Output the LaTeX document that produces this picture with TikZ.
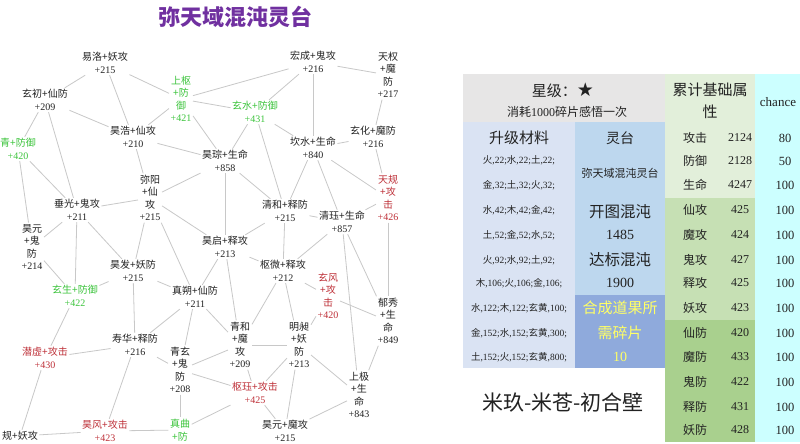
\documentclass[tikz,border=0pt]{standalone}
\usepackage{fontspec}
\setmainfont{Noto Sans CJK SC}
\newfontfamily\sr{Liberation Serif}
\newfontfamily\djv{DejaVu Sans}
\definecolor{txt}{HTML}{222222}
\definecolor{grn}{HTML}{3CC43C}
\definecolor{red2}{HTML}{BE3038}
\definecolor{purp}{HTML}{7030A0}
\definecolor{edgec}{HTML}{C8C8C8}
\definecolor{hdr}{HTML}{E7E6E6}
\definecolor{colA}{HTML}{DAE3F3}
\definecolor{colB}{HTML}{BDD7EE}
\definecolor{boxB}{HTML}{8FAADC}
\definecolor{colCa}{HTML}{E2EFDA}
\definecolor{colCb}{HTML}{C6E0B4}
\definecolor{colCc}{HTML}{A9D08E}
\definecolor{colD}{HTML}{CCFFFF}
\definecolor{yel}{HTML}{FFFF66}
\newcommand\twol[2]{#1\\{\sr +#2}}
\newcommand\fourl[4]{#1\\+#2\\#3\\{\sr +#4}}
\newcommand\rowA[6]{#1{\sr ,#2;}#3{\sr ,#4;}#5{\sr ,#6;}}
\tikzset{
  gn/.style={font=\fontsize{10}{12.5}\selectfont, align=center, inner sep=1.5pt, text=txt},
  gg/.style={gn, text=grn},
  gr/.style={gn, text=red2},
  ed/.style={draw=edgec, line width=0.8pt},
  ts/.style={inner sep=0pt, text=txt},
}
\begin{document}
\begin{tikzpicture}[x=1pt,y=-1pt]
\useasboundingbox[fill=white] (0,0) rectangle (800,444);

% title
\node[font=\bfseries\fontsize{22}{24}\selectfont, text=purp] (title) at (235,17) {弥天域混沌灵台};

% graph nodes
\node[gn] (a1) at (105,63) {\twol{易洛+妖攻}{215}};
\node[gn] (a2) at (45,100) {\twol{玄初+仙防}{209}};
\node[gg] (a3) at (181,99) {\fourl{上枢}{防}{御}{421}};
\node[gn] (a4) at (133,137) {\twol{昊浩+仙攻}{210}};
\node[gg] (a5) at (255,112) {\twol{玄水+防御}{431}};
\node[gn] (a6) at (313,62) {\twol{宏成+鬼攻}{216}};
\node[gn] (a7) at (388,75) {\fourl{天权}{魔}{防}{217}};
\node[gn] (a8) at (373,137) {\twol{玄化+魔防}{216}};
\node[gn] (a9) at (313,148) {\twol{坎水+生命}{840}};
\node[gn] (a10) at (225,161) {\twol{昊琮+生命}{858}};
\node[gg] (a11) at (18,149) {\twol{青+防御}{420}};
\node[gn] (a12) at (150,198) {\fourl{弥阳}{仙}{攻}{215}};
\node[gn] (a13) at (77,210) {\twol{垂光+鬼攻}{211}};
\node[gn] (a14) at (32,247) {\fourl{昊元}{鬼}{防}{214}};
\node[gn] (a15) at (225,247) {\twol{昊启+释攻}{213}};
\node[gn] (a16) at (285,211) {\twol{清和+释防}{215}};
\node[gn] (a17) at (342,222) {\twol{清珏+生命}{857}};
\node[gr] (a18) at (388,198) {\fourl{天规}{攻}{击}{426}};
\node[gn] (a19) at (283,271) {\twol{枢微+释攻}{212}};
\node[gr] (a20) at (328,296) {\fourl{玄风}{攻}{击}{420}};
\node[gn] (a21) at (195,297) {\twol{真朔+仙防}{211}};
\node[gn] (a22) at (133,271) {\twol{昊发+妖防}{215}};
\node[gg] (a23) at (75,296) {\twol{玄生+防御}{422}};
\node[gn] (a24) at (135,345) {\twol{寿华+释防}{216}};
\node[gr] (a25) at (45,358) {\twol{潜虚+攻击}{430}};
\node[gn] (a26) at (180,370) {\fourl{青玄}{鬼}{防}{208}};
\node[gn] (a27) at (240,345) {\fourl{青和}{魔}{攻}{209}};
\node[gn] (a28) at (299,345) {\fourl{明昶}{妖}{防}{213}};
\node[gn] (a29) at (388,321) {\fourl{郁秀}{生}{命}{849}};
\node[gr] (a30) at (255,393) {\twol{枢珏+攻击}{425}};
\node[gn] (a31) at (359,395) {\fourl{上极}{生}{命}{843}};
\node[gn] (a32) at (285,431) {\twol{昊元+魔攻}{215}};
\node[gr] (a33) at (105,431) {\twol{昊风+攻击}{423}};
\node[gg] (a34) at (180,430) {真曲\\+防};
\node[gn] (a35) at (20,436) {规+妖攻};

% edges
\foreach \a/\b in {a1/a2,a1/a3,a1/a4,a2/a4,a2/a11,a2/a13,a3/a4,a3/a6,a3/a5,a3/a10,
  a6/a7,a6/a5,a6/a9,a7/a8,a5/a10,a5/a9,a5/a16,a8/a9,a8/a18,a4/a10,a4/a12,
  a10/a12,a10/a16,a10/a15,a9/a16,a9/a17,a9/a18,a16/a17,a16/a15,a16/a19,
  a18/a17,a18/a29,a17/a19,a17/a31,a17/a29,a15/a19,a15/a27,a15/a21,
  a11/a13,a11/a14,a13/a12,a13/a14,a13/a23,a13/a22,a12/a22,a12/a15,a12/a21,
  a14/a23,a22/a21,a22/a23,a22/a24,a21/a27,a21/a24,a21/a26,a24/a25,a24/a26,
  a24/a33,a26/a27,a26/a30,a26/a34,a25/a35,a23/a25,a35/a33,a33/a34,a34/a30,
  a19/a27,a19/a28,a19/a20,a27/a28,a27/a30,a28/a20,a28/a30,a28/a32,a28/a31,
  a30/a32,a32/a31,a31/a29,a20/a29}
  \draw[ed] (\a) -- (\b);

% table backgrounds
\fill[hdr] (463,74) rectangle (665,122);
\fill[colA] (463,122) rectangle (575,368);
\fill[colB] (575,122) rectangle (665,295);
\fill[boxB] (575,295) rectangle (665,368);
\fill[colCa] (665,74) rectangle (755,198);
\fill[colCb] (665,198) rectangle (755,320);
\fill[colCc] (665,320) rectangle (755,442);
\fill[colD] (755,74) rectangle (800,442);

% header texts
\node[ts, font=\fontsize{15}{17}\selectfont] (star) at (563,90) {星级：{\djv\fontsize{19}{19}\selectfont ★}};
\node[ts, font=\fontsize{12}{14}\selectfont] (cost) at (567,112) {消耗{\sr 1000}碎片感悟一次};
\node[ts, font=\fontsize{15}{17}\selectfont] (hA) at (519,138) {升级材料};
\node[ts, font=\fontsize{14}{16}\selectfont] (hB) at (620,138) {灵台};
\node[ts, font=\fontsize{15}{22}\selectfont, align=center] (hC) at (710,101) {累计基础属\\性};
\node[ts, font=\sr\fontsize{13}{15}\selectfont] (hD) at (778,102) {chance};

% column A
\begin{scope}[every node/.style={ts, font=\fontsize{9.5}{11}\selectfont}]
\node (m1) at (519,160) {\rowA{火}{22}{水}{22}{土}{22}};
\node (m2) at (519,185) {\rowA{金}{32}{土}{32}{火}{32}};
\node (m3) at (519,210) {\rowA{水}{42}{木}{42}{金}{42}};
\node (m4) at (519,235) {\rowA{土}{52}{金}{52}{水}{52}};
\node (m5) at (519,260) {\rowA{火}{92}{水}{92}{土}{92}};
\node (m6) at (519,283) {\rowA{木}{106}{火}{106}{金}{106}};
\node (m7) at (519,308) {\rowA{水}{122}{木}{122}{玄黄}{100}};
\node (m8) at (519,333) {\rowA{金}{152}{水}{152}{玄黄}{300}};
\node (m9) at (519,357) {\rowA{土}{152}{火}{152}{玄黄}{800}};
\end{scope}

% column B
\node[ts, font=\fontsize{11}{13}\selectfont] (b1) at (620,173) {弥天域混沌灵台};
\node[ts, font=\fontsize{15.5}{17}\selectfont] (b2) at (620,212) {开图混沌};
\node[ts, font=\sr\fontsize{14}{16}\selectfont] (b3) at (620,235) {1485};
\node[ts, font=\fontsize{15.5}{17}\selectfont] (b4) at (620,260) {达标混沌};
\node[ts, font=\sr\fontsize{14}{16}\selectfont] (b5) at (620,283) {1900};
\node[ts, text=yel, font=\fontsize{15}{17}\selectfont] (b6) at (620,308) {合成道果所};
\node[ts, text=yel, font=\fontsize{15}{17}\selectfont] (b7) at (620,333) {需碎片};
\node[ts, text=yel, font=\sr\fontsize{14}{16}\selectfont] (b8) at (620,357) {10};

% column C and D
\foreach \nm/\vv/\cc/\y [count=\i] in {攻击/2124/80/138, 防御/2128/50/161, 生命/4247/100/185,
  仙攻/425/100/210, 魔攻/424/100/235, 鬼攻/427/100/260, 释攻/425/100/283, 妖攻/423/100/308,
  仙防/420/100/333, 魔防/433/100/357, 鬼防/422/100/382, 释防/431/100/407, 妖防/428/100/430}
{
  \node[ts, font=\fontsize{12}{14}\selectfont] (cn\i) at (695,\y) {\nm};
  \node[ts, font=\sr\fontsize{12}{14}\selectfont] (cv\i) at (740,\y) {\vv};
  \node[ts, font=\sr\fontsize{12.5}{14}\selectfont] (dv\i) at (785,\y) {\cc};
}

% bottom caption
\node[ts, font=\fontsize{21}{23}\selectfont] (cap) at (563,403) {米玖-米苍-初合壁};
\end{tikzpicture}
\end{document}
